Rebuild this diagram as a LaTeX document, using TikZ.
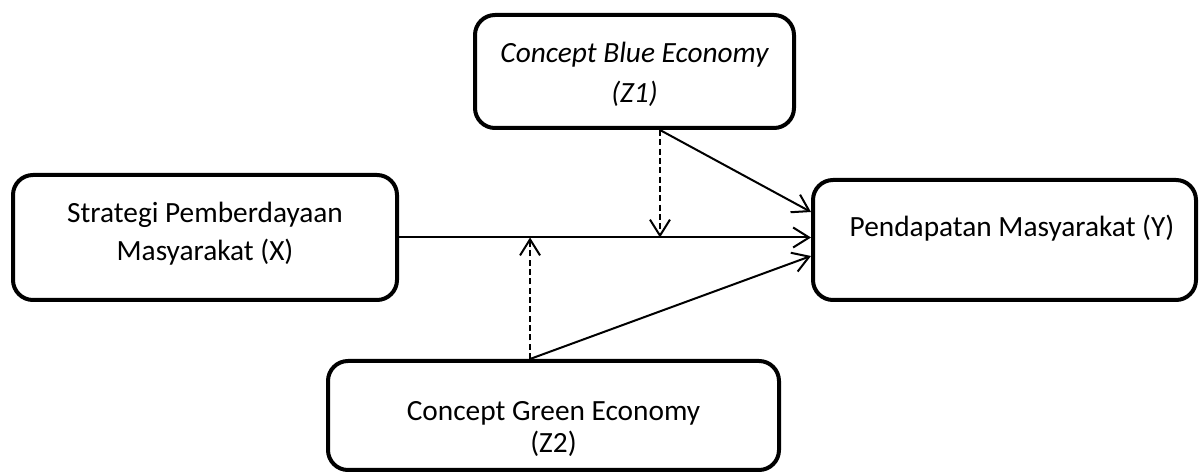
\documentclass[tikz,border=0pt]{standalone}
\usepackage{fontspec}
\setmainfont{Carlito}
\usetikzlibrary{arrows.meta,calc}
\begin{document}
\begin{tikzpicture}[x=0.75pt,y=-0.75pt,
  box/.style={draw=black,line width=3pt,rounded corners=15pt,inner sep=0pt},
  txt/.style={align=center,inner sep=0pt,font=\fontsize{22}{28.5}\selectfont},
  conn/.style={line width=1.5pt,-{Straight Barb[length=12pt,width=15pt,line width=1.5pt]}},
  dconn/.style={conn,dash pattern=on 4.5pt off 2.5pt}]
\useasboundingbox (0,0) rectangle (1199,473);
\node[box,minimum width=288pt,minimum height=93.75pt] (X) at (205,237.5) {};
\node[box,minimum width=287.25pt,minimum height=90pt] (Y) at (1004.5,240) {};
\node[box,minimum width=239.25pt,minimum height=84.75pt] (Z1) at (634.5,71.5) {};
\node[box,minimum width=338.25pt,minimum height=81.75pt] (Z2) at (553.5,415.5) {};
\node[txt] (Xt) at (205,234) {Strategi Pemberdayaan\\Masyarakat (X)};
\node[txt] (Yt) at (1012,228) {Pendapatan Masyarakat (Y)};
\node[txt,font=\fontsize{22}{30}\selectfont\itshape] (Z1t) at (634.5,74) {Concept Blue Economy\\(Z1)};
\node[txt,font=\fontsize{22}{24}\selectfont] (Z2t) at (553.5,429) {Concept Green Economy\\(Z2)};
\coordinate (z1s) at ([xshift=19.1pt]Z1.south);
\coordinate (z2n) at ([xshift=-17.6pt]Z2.north);
\coordinate (y1) at ([yshift=21pt]Y.west);
\coordinate (y3) at ([yshift=-12pt]Y.west);
\draw[conn] (X.east) -- (X.east -| Y.west);
\draw[conn] (z1s) -- (y1);
\draw[conn] (z2n) -- (y3);
\draw[dconn] (z1s) -- (z1s |- X.east);
\draw[dconn] (z2n) -- (z2n |- X.east);
\end{tikzpicture}
\end{document}
